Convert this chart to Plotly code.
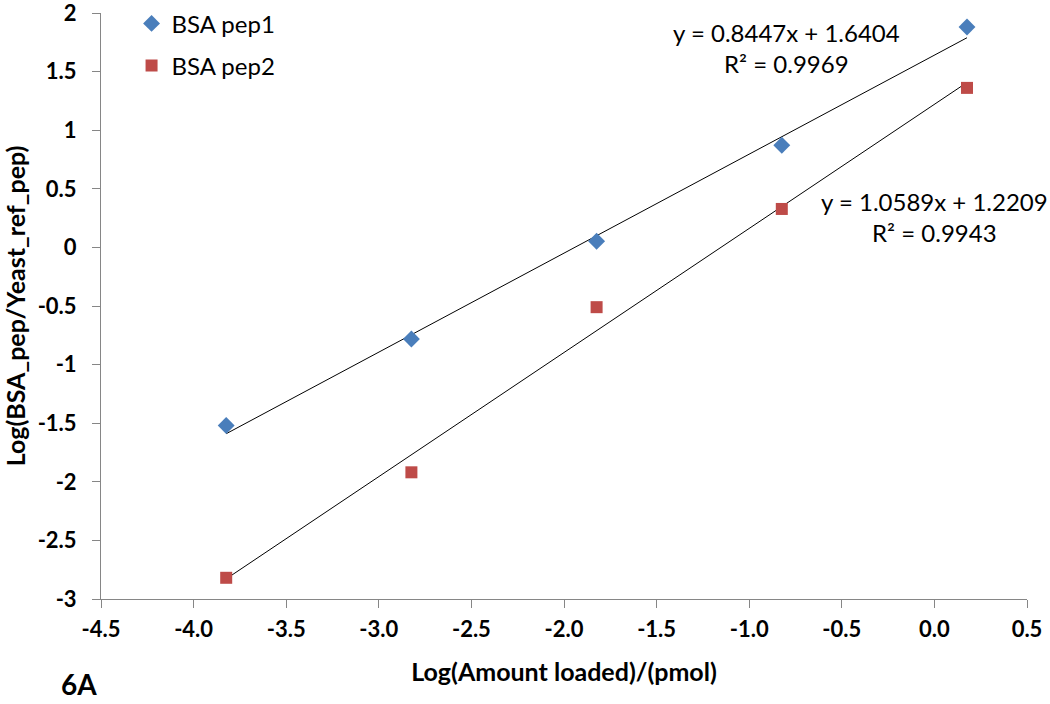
import plotly.graph_objects as go

# Data
x_vals = [-3.824, -2.824, -1.824, -0.824, 0.176]
pep1_y = [-1.520, -0.782, 0.053, 0.871, 1.881]
pep2_y = [-2.819, -1.919, -0.510, 0.328, 1.361]

# Trendline coefficients (from the chart's equations)
pep1_slope, pep1_intercept, pep1_r2 = 0.8447, 1.6404, 0.9969
pep2_slope, pep2_intercept, pep2_r2 = 1.0589, 1.2209, 0.9943

x_ticks = [-4.5, -4.0, -3.5, -3.0, -2.5, -2.0, -1.5, -1.0, -0.5, 0.0, 0.5]
x_ticktext = ["-4.5", "-4.0", "-3.5", "-3.0", "-2.5", "-2.0", "-1.5", "-1.0", "-0.5", "0.0", "0.5"]
y_ticks = [2, 1.5, 1, 0.5, 0, -0.5, -1, -1.5, -2, -2.5, -3]
y_ticktext = ["2", "1.5", "1", "0.5", "0", "-0.5", "-1", "-1.5", "-2", "-2.5", "-3"]

FONT = "Lato, 'Open Sans', sans-serif"
BLUE = "#4A7EBB"
RED = "#BE4B48"
AXIS = "#868686"

fig = go.Figure()

x_line = [min(x_vals), max(x_vals)]
fig.add_trace(go.Scatter(
    x=x_line, y=[pep1_slope * v + pep1_intercept for v in x_line],
    mode="lines", line=dict(color="black", width=1), showlegend=False, hoverinfo="skip"))
fig.add_trace(go.Scatter(
    x=x_line, y=[pep2_slope * v + pep2_intercept for v in x_line],
    mode="lines", line=dict(color="black", width=1), showlegend=False, hoverinfo="skip"))

fig.add_trace(go.Scatter(
    x=x_vals, y=pep1_y, mode="markers", name="BSA pep1", legendgroup="a",
    marker=dict(symbol="diamond", size=13, color=BLUE)))
fig.add_trace(go.Scatter(
    x=x_vals, y=pep2_y, mode="markers", name="BSA pep2", legendgroup="b",
    marker=dict(symbol="square", size=12, color=RED)))

fig.add_annotation(x=-0.798, y=1.70, xref="x", yref="y", showarrow=False,
                   text=f"y = {pep1_slope}x + {pep1_intercept}<br>R² = {pep1_r2}",
                   font=dict(family=FONT, size=24, color="black"), align="center")
fig.add_annotation(x=0.0, y=0.26, xref="x", yref="y", showarrow=False,
                   text=f"y = {pep2_slope}x + {pep2_intercept}<br>R² = {pep2_r2}",
                   font=dict(family=FONT, size=24, color="black"), align="center")

fig.add_annotation(x=-0.045, y=-0.178, xref="paper", yref="paper", showarrow=False,
                   text="<b>6A</b>", xanchor="left", yanchor="bottom",
                   font=dict(family=FONT, size=28, color="black"))

fig.update_xaxes(
    range=[-4.5, 0.5], tickvals=x_ticks, ticktext=[f"<b>{t}</b>" for t in x_ticktext],
    showgrid=False, zeroline=False, showline=True, linecolor=AXIS, linewidth=1,
    ticks="outside", ticklen=8, tickcolor=AXIS, ticklabelstandoff=3,
    ticklabeloverflow="allow",
    tickfont=dict(family=FONT, size=22, color="black"),
    title=dict(text="<b>Log(Amount loaded)/(pmol)</b>", standoff=22,
               font=dict(family=FONT, size=25, color="black")))
fig.update_yaxes(
    range=[-3, 2], tickvals=y_ticks, ticktext=[f"<b>{t}</b>" for t in y_ticktext],
    showgrid=False, zeroline=False, showline=True, linecolor=AXIS, linewidth=1,
    ticks="outside", ticklen=8, tickcolor=AXIS, ticklabelstandoff=11,
    ticklabeloverflow="allow",
    tickfont=dict(family=FONT, size=22, color="black"),
    title=dict(text="<b>Log(BSA_pep/Yeast_ref_pep)</b>", standoff=4,
               font=dict(family=FONT, size=25, color="black")))

fig.update_layout(
    width=1050, height=704,
    margin=dict(l=101, r=23, t=13, b=105, autoexpand=False),
    plot_bgcolor="white", paper_bgcolor="white",
    legend=dict(x=0.033, y=1.02, xanchor="left", yanchor="top",
                font=dict(family=FONT, size=24, color="black"),
                tracegroupgap=8, traceorder="grouped", bgcolor="rgba(0,0,0,0)"),
)

fig.write_html("out.html", config={"displayModeBar": False},
               post_script="document.body.style.margin='0';document.body.style.overflow='hidden';")
